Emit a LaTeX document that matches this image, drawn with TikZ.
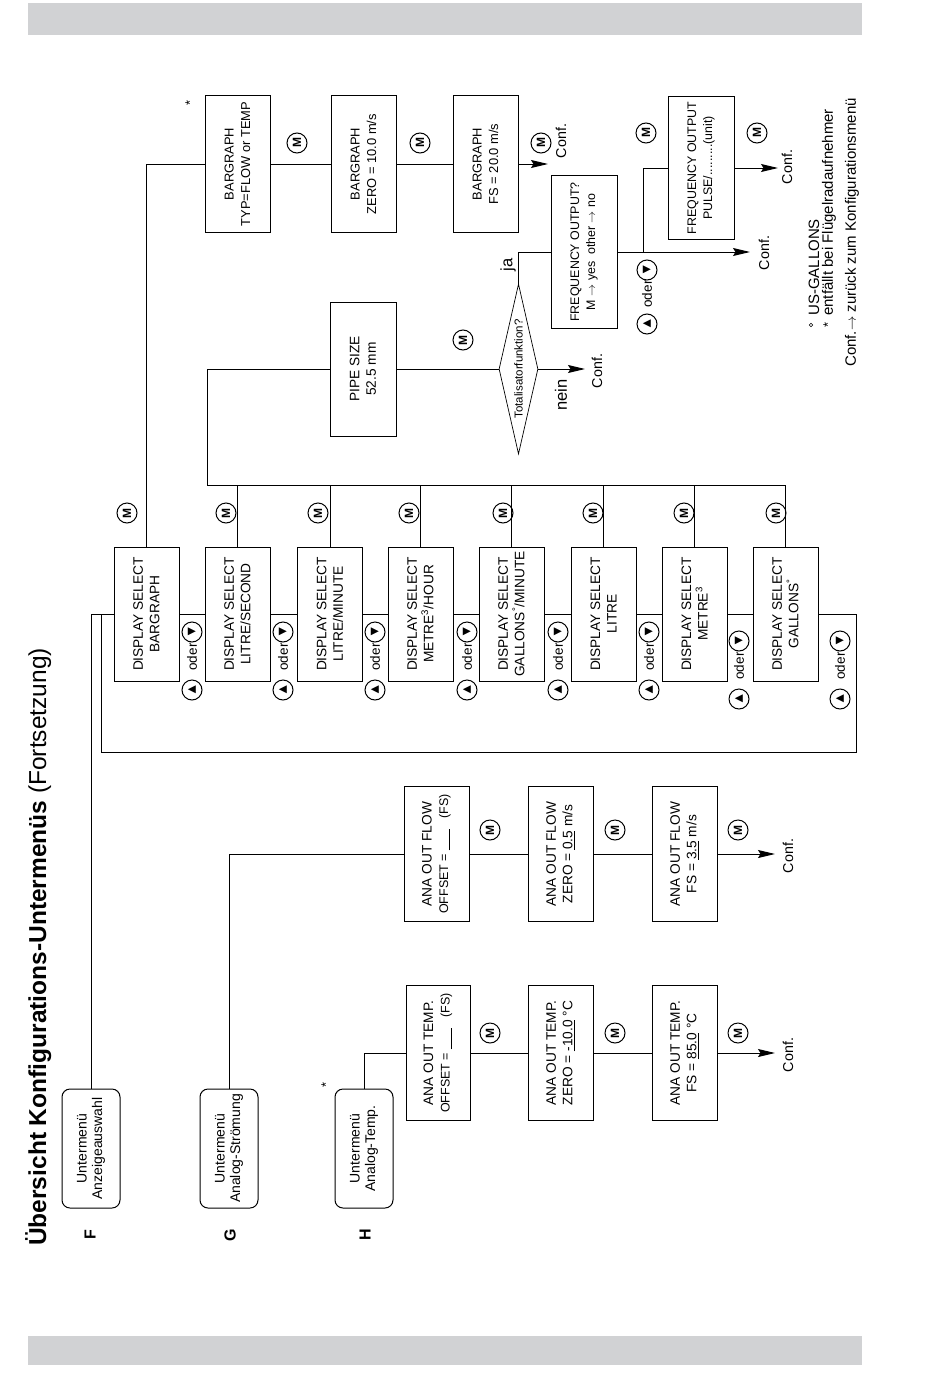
\documentclass[tikz,border=0pt]{standalone}
\usepackage{fontspec}
\setmainfont{Liberation Sans}
\newfontfamily\dejavu{DejaVu Sans}
\usetikzlibrary{shapes.geometric,arrows.meta}
\definecolor{bargray}{HTML}{D1D2D4}
\newcommand{\odergrp}[3]{%
 \node[tsym] (#1d) at (#2,#3) {▶};
 \node[rtxt] (#1o) at (#2,#3+25) {oder};
 \node[tsym] (#1u) at (#2,#3+58) {◀};}
\newcommand{\offsetline}{{\fontsize{12.5}{16.5}\selectfont OFFSET = \underline{\hspace{21pt}}\hspace{11pt}(FS)}}
\begin{document}
\begin{tikzpicture}[x=1pt,y=-1pt,
 ln/.style={line width=1pt},
 arr/.style={line width=1pt,-{Stealth[length=17pt,width=8pt,inset=2.5pt]}},
 rbox/.style={draw,line width=1pt,rotate=90,align=center,inner sep=0pt,font=\fontsize{13.7}{16.5}\selectfont},
 dsbox/.style={rbox,minimum width=134pt,minimum height=65pt},
 bgbox/.style={rbox,minimum width=136pt,minimum height=65pt,font=\fontsize{12.9}{16.5}\selectfont},
 anabox/.style={rbox,minimum width=135pt,minimum height=65pt},
 fqbox/.style={rbox,minimum height=66pt,font=\fontsize{12.4}{16}\selectfont},
 ubox/.style={rbox,rounded corners=8pt,minimum width=119pt,minimum height=58pt,font=\fontsize{14}{15.5}\selectfont},
 msym/.style={circle,draw,line width=1pt,inner sep=0pt,minimum size=20pt,rotate=90,font=\bfseries\fontsize{12}{12}\selectfont},
 tsym/.style={circle,draw,line width=1pt,inner sep=0pt,minimum size=20pt,font=\dejavu\fontsize{10.5}{10.5}\selectfont},
 rtxt/.style={rotate=90,inner sep=0pt,font=\fontsize{13.5}{14}\selectfont},
 conf/.style={rotate=90,inner sep=0pt,font=\fontsize{14.3}{14.3}\selectfont},
 big/.style={rotate=90,inner sep=0pt,font=\fontsize{16.5}{16.5}\selectfont},
 leg/.style={rotate=90,inner sep=0pt,anchor=west,font=\fontsize{15}{15}\selectfont},
 star/.style={rotate=90,inner sep=0pt,font=\fontsize{13}{13}\selectfont},
]
\useasboundingbox (0,0) rectangle (950,1378);
% gray bars
\fill[bargray] (28,3) rectangle (862,35);
\fill[bargray] (28,1336) rectangle (862,1365);

% title and letters
\node[rotate=90,anchor=base west,inner sep=0pt,font=\fontsize{24.5}{28}\selectfont] (title) at (46,1246)
 {\textbf{Übersicht Konfigurations-Untermenüs} (Fortsetzung)};
\node[rotate=90,font=\bfseries\fontsize{16}{16}\selectfont] (lF) at (90,1235) {F};
\node[rotate=90,font=\bfseries\fontsize{16}{16}\selectfont] (lG) at (230,1235) {G};
\node[rotate=90,font=\bfseries\fontsize{16}{16}\selectfont] (lH) at (365,1235) {H};

% submenu boxes
\node[ubox] (uF) at (91,1148.5) {Untermenü\\Anzeigeauswahl};
\node[ubox] (uG) at (229,1148.5) {Untermenü\\Analog-Strömung};
\node[ubox] (uH) at (364,1148.5) {Untermenü\\Analog-Temp.};
\node[star] (sH) at (326,1085) {*};

% display select boxes
\node[dsbox] (ds1) at (146.5,614) {DISPLAY SELECT\\BARGRAPH};
\node[dsbox] (ds2) at (237.5,614) {DISPLAY SELECT\\LITRE/SECOND};
\node[dsbox] (ds3) at (330,614) {DISPLAY SELECT\\LITRE/MINUTE};
\node[dsbox] (ds4) at (420.5,614) {DISPLAY SELECT\\METRE\textsuperscript{3}/HOUR};
\node[dsbox] (ds5) at (511.5,614) {DISPLAY SELECT\\GALLONS\textsuperscript{°}/MINUTE};
\node[dsbox] (ds6) at (603.5,614) {DISPLAY SELECT\\LITRE};
\node[dsbox] (ds7) at (694.5,614) {DISPLAY SELECT\\METRE\textsuperscript{3}};
\node[dsbox] (ds8) at (785.5,614) {DISPLAY SELECT\\GALLONS\textsuperscript{°}};

% M symbols above display boxes
\node[msym] (m1) at (127,513) {M};
\node[msym] (m2) at (226,513) {M};
\node[msym] (m3) at (318,513) {M};
\node[msym] (m4) at (409,513) {M};
\node[msym] (m5) at (503,513) {M};
\node[msym] (m6) at (593,513) {M};
\node[msym] (m7) at (684,513) {M};
\node[msym] (m8) at (776,513) {M};

% oder groups
\odergrp{o1}{192}{632}
\odergrp{o2}{283}{632}
\odergrp{o3}{375}{632}
\odergrp{o4}{467}{632}
\odergrp{o5}{558}{632}
\odergrp{o6}{649}{632}
\odergrp{o7}{739}{641}
\odergrp{o8}{840}{641}

% bargraph row
\node[bgbox] (bg1) at (237.5,164) {BARGRAPH\\TYP=FLOW or TEMP};
\node[bgbox] (bg2) at (363.5,164) {BARGRAPH\\ZERO = 10.0 m/s};
\node[bgbox] (bg3) at (485.5,164) {BARGRAPH\\FS = 20.0 m/s};
\node[star] (sbg) at (190,103) {*};
\node[msym] (mb1) at (297,143) {M};
\node[msym] (mb2) at (420,143) {M};
\node[msym] (mb3) at (541,143) {M};
\coordinate (cbgA) at (548,164);
\node[conf] (cbg) at (561,141) {Conf.};

% pipe size / totalisator
\node[rbox,minimum width=134pt,minimum height=66pt] (pipe) at (363,369) {PIPE SIZE\\52.5 mm};
\node[msym] (mp) at (463,340) {M};
\node[diamond,draw,line width=0.7pt,rotate=90,minimum width=170pt,minimum height=39pt,inner sep=0pt,aspect=4.4,font=\fontsize{11.5}{12}\selectfont] (dia) at (518.5,369) {Totalisatorfunktion?};
\coordinate (cpA) at (585,369);
\node[conf] (cp) at (597,371) {Conf.};
\node[big] (nein) at (561,395) {nein};
\node[big] (ja) at (508,265) {ja};

% frequency output
\node[fqbox,minimum width=153pt] (freq) at (584,252) {FREQUENCY OUTPUT?\\M $\rightarrow$ yes\ \ other $\rightarrow$ no};
\coordinate (cfA) at (750,252);
\node[conf] (cf) at (764,253) {Conf.};
\coordinate (br) at (643,252);
\node[fqbox,minimum width=142pt] (pulse) at (701,168) {FREQUENCY OUTPUT\\PULSE/.........(unit)};
\coordinate (cuA) at (778,168);
\node[conf] (cu) at (787,167) {Conf.};
\node[msym] (mf1) at (646,133) {M};
\node[msym] (mf2) at (757,133) {M};
\node[tsym] (ofd) at (647,270) {▶};
\node[rtxt] (ofo) at (647,294) {oder};
\node[tsym] (ofu) at (647,324) {◀};

% ana out flow
\node[anabox] (af1) at (436.5,854) {ANA OUT FLOW\\\offsetline};
\node[anabox] (af2) at (560.5,854) {ANA OUT FLOW\\ZERO = \underline{0.5} m/s};
\node[anabox] (af3) at (684.5,854) {ANA OUT FLOW\\FS = \underline{3.5} m/s};
\node[msym] (ma1) at (490,830) {M};
\node[msym] (ma2) at (615,830) {M};
\node[msym] (ma3) at (738,830) {M};
\coordinate (caA) at (775,854);
\node[conf] (ca) at (788,856) {Conf.};

% ana out temp
\node[anabox,minimum height=64pt] (at1) at (438,1053) {ANA OUT TEMP.\\\offsetline};
\node[anabox] (at2) at (560.5,1053) {ANA OUT TEMP.\\ZERO = \underline{-10.0} °C};
\node[anabox] (at3) at (684.5,1053) {ANA OUT TEMP.\\FS = \underline{85.0} °C};
\node[msym] (mt1) at (490,1033) {M};
\node[msym] (mt2) at (615,1033) {M};
\node[msym] (mt3) at (738,1033) {M};
\coordinate (ctA) at (775,1053);
\node[conf] (ct) at (788,1055) {Conf.};

% legend
\node[circle,draw,line width=0.6pt,inner sep=0pt,minimum size=3.5pt] (lg1s) at (811,325) {};
\node[leg] (lg1) at (814,316) {US-GALLONS};
\node[star] (lg2s) at (828,325) {*};
\node[leg] (lg2) at (829,316) {entfällt bei Flügelradaufnehmer};
\node[leg] (lg3) at (852,367) {Conf.$\rightarrow$ zurück zum Konfigurationsmenü};

% ---------- connectors ----------
\coordinate (loopL) at (101,614);
\coordinate (loopR) at (856,752);
\coordinate (busL) at (207,485);
\draw[ln] (uF.east) |- (ds1.north);
\draw[ln] (ds8.south) -| (loopR) -| (loopL);
\foreach \a/\b in {ds1/ds2,ds2/ds3,ds3/ds4,ds4/ds5,ds5/ds6,ds6/ds7,ds7/ds8}
  \draw[ln] (\a.south) -- (\b.north);
\draw[ln] (pipe.north) -| (busL) -- (ds8.east |- busL) -- (ds8.east);
\foreach \n in {ds2,ds3,ds4,ds5,ds6,ds7}
  \draw[ln] (\n.east) -- (\n.east |- busL);
\draw[ln] (ds1.east) |- (bg1.north);
\draw[ln] (bg1.south) -- (bg2.north);
\draw[ln] (bg2.south) -- (bg3.north);
\draw[arr] (bg3.south) -- (cbgA);
\draw[ln] (pipe.south) -- (dia.north);
\draw[arr] (dia.south) -- (cpA);
\draw[ln] (dia.east) |- (freq.north);
\draw[arr] (freq.south) -- (cfA);
\draw[ln] (br) |- (pulse.north);
\draw[arr] (pulse.south) -- (cuA);
\draw[ln] (uG.east) |- (af1.north);
\draw[ln] (af1.south) -- (af2.north);
\draw[ln] (af2.south) -- (af3.north);
\draw[arr] (af3.south) -- (caA);
\draw[ln] (uH.east) |- (at1.north);
\draw[ln] (at1.south) -- (at2.north);
\draw[ln] (at2.south) -- (at3.north);
\draw[arr] (at3.south) -- (ctA);
\end{tikzpicture}
\end{document}
